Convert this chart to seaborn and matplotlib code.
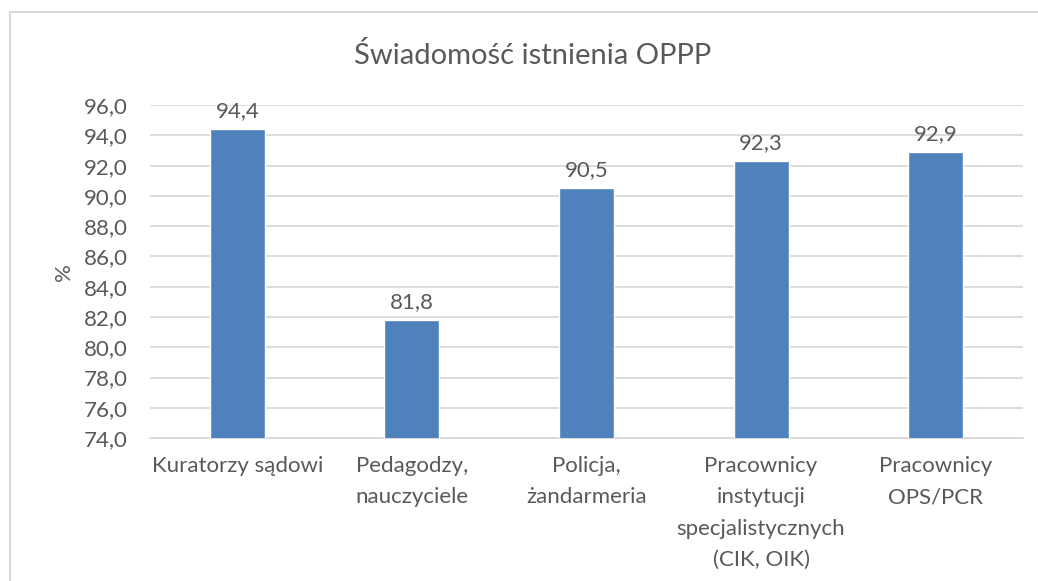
import matplotlib
matplotlib.use("Agg")
import matplotlib.pyplot as plt
import seaborn as sns
import pandas as pd
from matplotlib.patches import Rectangle

# dane z wykresu
kategorie = [
    "Kuratorzy sądowi",
    "Pedagodzy,\nnauczyciele",
    "Policja,\nżandarmeria",
    "Pracownicy\ninstytucji\nspecjalistycznych\n(CIK, OIK)",
    "Pracownicy\nOPS/PCR",
]
wartosci = [94.4, 81.8, 90.5, 92.3, 92.9]
ticki_y = [74, 76, 78, 80, 82, 84, 86, 88, 90, 92, 94, 96]

KOLOR_SLUPKA = "#4f81bd"
KOLOR_TEKSTU = "#595959"
KOLOR_SIATKI = "#d9d9d9"
ROZMIAR = 16

sns.set_style("white")
plt.rcParams["font.family"] = ["Lato", "DejaVu Sans"]

df = pd.DataFrame({"kategoria": kategorie, "wartosc": wartosci})

fig = plt.figure(figsize=(10.38, 5.81), dpi=100)
ax = fig.add_axes([0.1445, 0.246, 0.841, 0.573])

sns.barplot(data=df, x="kategoria", y="wartosc", order=kategorie,
            color=KOLOR_SLUPKA, saturation=1, width=0.315, ax=ax, zorder=3)

ax.set_ylim(74, 96)
ax.set_xlim(-0.5, len(kategorie) - 0.5)
ax.set_yticks(ticki_y)
ax.set_yticklabels([f"{v:.1f}".replace(".", ",") for v in ticki_y])
ax.yaxis.grid(True, color=KOLOR_SIATKI, linewidth=1.3, zorder=0)
ax.set_axisbelow(True)
for s in ["top", "right", "left"]:
    ax.spines[s].set_visible(False)
ax.spines["bottom"].set_color(KOLOR_SIATKI)
ax.spines["bottom"].set_linewidth(1.3)
ax.tick_params(axis="both", length=0, labelsize=ROZMIAR, colors=KOLOR_TEKSTU)
ax.tick_params(axis="x", pad=13)
ax.tick_params(axis="y", pad=16)
for lab in ax.get_xticklabels():
    lab.set_linespacing(1.7)

ax.set_xlabel("")
ax.set_ylabel("%", fontsize=ROZMIAR, color=KOLOR_TEKSTU, labelpad=7)

ax.bar_label(ax.containers[0], labels=[f"{v:.1f}".replace(".", ",") for v in wartosci],
             padding=6, fontsize=ROZMIAR, color=KOLOR_TEKSTU)

fig.text(0.513, 0.905, "Świadomość istnienia OPPP", ha="center", va="center",
         fontsize=21, color=KOLOR_TEKSTU)

# ramka obszaru wykresu
fig.add_artist(Rectangle((10 / 1038, -0.05), 1.1, 1 - 12 / 581 + 0.05,
                         transform=fig.transFigure, fill=False,
                         edgecolor=KOLOR_SIATKI, linewidth=1.5))

fig.savefig("out.png", dpi=100)
